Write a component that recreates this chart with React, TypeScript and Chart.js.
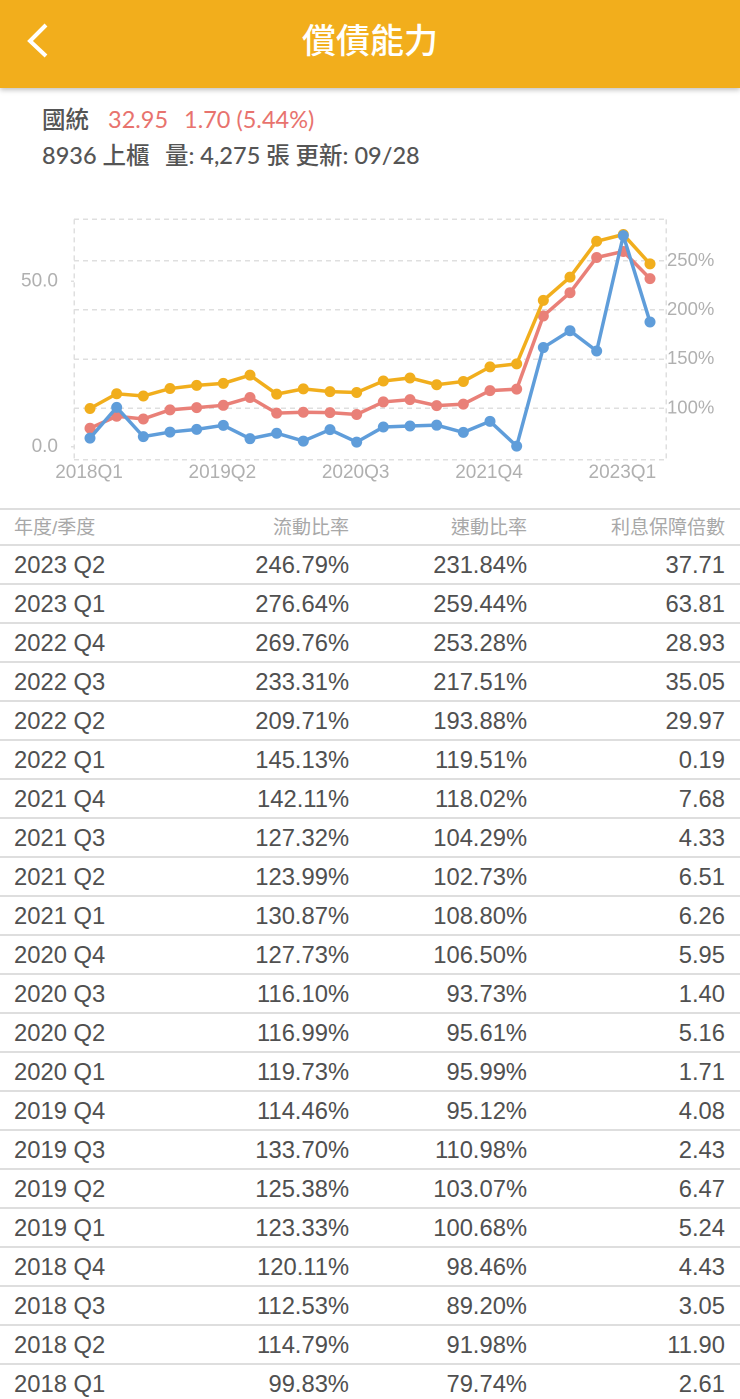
import { useEffect, useRef } from 'react';
import { Chart, registerables } from 'chart.js';

Chart.register(...registerables);

// oldest first, same order the chart reads them
const quarters = [
  '2018 Q1', '2018 Q2', '2018 Q3', '2018 Q4', '2019 Q1', '2019 Q2', '2019 Q3', '2019 Q4',
  '2020 Q1', '2020 Q2', '2020 Q3', '2020 Q4', '2021 Q1', '2021 Q2', '2021 Q3', '2021 Q4',
  '2022 Q1', '2022 Q2', '2022 Q3', '2022 Q4', '2023 Q1', '2023 Q2',
];
const currentRatio = [
  99.83, 114.79, 112.53, 120.11, 123.33, 125.38, 133.7, 114.46, 119.73, 116.99, 116.1,
  127.73, 130.87, 123.99, 127.32, 142.11, 145.13, 209.71, 233.31, 269.76, 276.64, 246.79,
];
const quickRatio = [
  79.74, 91.98, 89.2, 98.46, 100.68, 103.07, 110.98, 95.12, 95.99, 95.61, 93.73,
  106.5, 108.8, 102.73, 104.29, 118.02, 119.51, 193.88, 217.51, 253.28, 259.44, 231.84,
];
const interestCover = [
  2.61, 11.9, 3.05, 4.43, 5.24, 6.47, 2.43, 4.08, 1.71, 5.16, 1.4,
  5.95, 6.26, 6.51, 4.33, 7.68, 0.19, 29.97, 35.05, 28.93, 63.81, 37.71,
];
const xTickIndexes = [0, 5, 10, 15, 20];
const leftTicks = [0, 50];
const rightTicks = [100, 150, 200, 250];
const tableHeaders = ['年度/季度', '流動比率', '速動比率', '利息保障倍數'];

const X_MIN = -0.6;
const X_MAX = 21.6;

const GOLD = '#F1AE1D';
const PINK = '#E98078';
const BLUE = '#5F9DDA';
const GRID = '#DFDFDF';
const TICK_TEXT = '#B0B0B0';
const TICK_FAMILY = '"Liberation Sans", Arial, sans-serif';
const DASH = [5, 4];

const HEAD_FONT = 'Lato, "Noto Sans CJK TC", sans-serif';
const TABLE_FONT = '"Liberation Sans", "Noto Sans CJK TC", sans-serif';

const points = (values: number[]) => values.map((y, x) => ({ x, y }));

function line(label: string, values: number[], color: string, yAxisID: string) {
  return {
    label,
    data: points(values),
    yAxisID,
    borderColor: color,
    backgroundColor: color,
    borderWidth: 3.5,
    pointRadius: 5.5,
    pointBorderWidth: 0,
    tension: 0,
  };
}

function SolvencyChart() {
  const canvasRef = useRef<HTMLCanvasElement>(null);

  useEffect(() => {
    if (!canvasRef.current) return;

    const chart = new Chart(canvasRef.current, {
      type: 'line',
      data: {
        // first dataset is painted on top
        datasets: [
          line('利息保障倍數', interestCover, BLUE, 'left'),
          line('流動比率', currentRatio, GOLD, 'right'),
          line('速動比率', quickRatio, PINK, 'right'),
        ],
      },
      options: {
        animation: false,
        responsive: false,
        devicePixelRatio: 2,
        plugins: { legend: { display: false }, tooltip: { enabled: false } },
        scales: {
          x: {
            type: 'linear',
            min: X_MIN,
            max: X_MAX,
            // the two edge ticks only carry the dashed frame
            afterBuildTicks: (scale: any) => {
              scale.ticks = [X_MIN, ...xTickIndexes, X_MAX].map((value) => ({ value }));
            },
            afterFit: (scale: any) => {
              scale.height = 40.5;
            },
            grid: {
              drawTicks: false,
              lineWidth: 1.5,
              color: (ctx: any) =>
                ctx.tick && (ctx.tick.value === X_MIN || ctx.tick.value === X_MAX) ? GRID : 'transparent',
            },
            border: { display: false, dash: DASH },
            ticks: {
              autoSkip: false,
              maxRotation: 0,
              padding: 2,
              labelOffset: -1,
              color: TICK_TEXT,
              font: { family: TICK_FAMILY, size: 19 },
              callback: (value: any) => (quarters[value] ? quarters[value].replace(' ', '') : ''),
            },
          },
          left: {
            type: 'linear',
            position: 'left',
            min: -3.86,
            max: 68.7,
            afterBuildTicks: (scale: any) => {
              scale.ticks = leftTicks.map((value) => ({ value }));
            },
            afterFit: (scale: any) => {
              scale.width = 74;
            },
            grid: { drawOnChartArea: false, color: GRID, lineWidth: 1.5, tickLength: 3 },
            border: { display: false, dash: DASH },
            ticks: {
              autoSkip: false,
              padding: 13,
              color: TICK_TEXT,
              font: { family: TICK_FAMILY, size: 19 },
              callback: (value: any) => Number(value).toFixed(1),
            },
          },
          right: {
            type: 'linear',
            position: 'right',
            min: 48,
            max: 292,
            afterBuildTicks: (scale: any) => {
              scale.ticks = [48, ...rightTicks, 292].map((value) => ({ value }));
            },
            afterFit: (scale: any) => {
              scale.width = 74;
            },
            grid: { color: GRID, lineWidth: 1.5, drawTicks: false },
            border: { display: false, dash: DASH },
            ticks: {
              autoSkip: false,
              padding: 1,
              color: TICK_TEXT,
              font: { family: TICK_FAMILY, size: 18.5 },
              callback: (value: any) => (rightTicks.includes(value) ? `${value}%` : ''),
            },
          },
        },
      } as any,
    });

    return () => chart.destroy();
  }, []);

  return (
    <canvas
      ref={canvasRef}
      width={740}
      height={305}
      style={{ position: 'absolute', left: 0, top: 195, width: 740, height: 305 }}
    />
  );
}

const columnRight = [null, 349, 527, 725];

function Row({ cells, header }: { cells: string[]; header?: boolean }) {
  return (
    <div
      style={{
        position: 'relative',
        height: header ? 34 : 37,
        borderBottom: '2px solid #DEDEDE',
        lineHeight: header ? '35px' : '38px',
        fontSize: header ? 19 : 23.75,
        color: header ? '#A8A8A8' : '#505050',
      }}
    >
      {cells.map((cell, i) => (
        <span
          key={i}
          style={
            i === 0
              ? { position: 'absolute', left: 14 }
              : { position: 'absolute', right: 740 - (columnRight[i] as number) }
          }
        >
          {cell}
        </span>
      ))}
    </div>
  );
}

const infoLine = {
  position: 'absolute',
  fontFamily: HEAD_FONT,
  fontSize: 23.5,
  lineHeight: '32px',
  whiteSpace: 'pre',
} as const;

export default function App() {
  const rows = quarters.map((q, i) => [
    q,
    `${currentRatio[i].toFixed(2)}%`,
    `${quickRatio[i].toFixed(2)}%`,
    interestCover[i].toFixed(2),
  ]).reverse();

  return (
    <div
      style={{
        position: 'absolute',
        left: 0,
        top: 0,
        width: 740,
        height: 1399,
        overflow: 'hidden',
        background: '#fff',
      }}
    >
      <div
        style={{
          position: 'absolute',
          left: 0,
          top: 0,
          width: 740,
          height: 88,
          background: '#F2AE1C',
          boxShadow: '0 2px 5px rgba(0,0,0,0.25)',
          zIndex: 1,
        }}
      >
        <svg width={60} height={88} style={{ position: 'absolute', left: 0, top: 0 }}>
          <polyline points="46,25 30,41 46,56" fill="none" stroke="#fff" strokeWidth={4} />
        </svg>
        <div
          style={{
            position: 'absolute',
            left: 0,
            width: 740,
            top: 17,
            textAlign: 'center',
            color: '#fff',
            fontFamily: HEAD_FONT,
            fontSize: 34,
            lineHeight: '46px',
            fontWeight: 500,
          }}
        >
          償債能力
        </div>
      </div>

      <div style={{ ...infoLine, left: 42, top: 103, color: '#555', fontWeight: 500 }}>國統</div>
      <div style={{ ...infoLine, left: 108, top: 103, color: '#E8736E' }}>32.95</div>
      <div style={{ ...infoLine, left: 184, top: 103, color: '#E8736E' }}>1.70 (5.44%)</div>
      <div style={{ ...infoLine, left: 42, top: 139, color: '#555', fontWeight: 500 }}>8936 上櫃</div>
      <div style={{ ...infoLine, left: 165, top: 139, color: '#555', fontWeight: 500 }}>
        量: 4,275 張 更新: 09/28
      </div>

      <SolvencyChart />

      <div
        style={{
          position: 'absolute',
          left: 0,
          top: 508,
          width: 740,
          borderTop: '2px solid #DEDEDE',
          fontFamily: TABLE_FONT,
        }}
      >
        <Row cells={tableHeaders} header />
        {rows.map((r) => (
          <Row key={r[0]} cells={r} />
        ))}
      </div>
    </div>
  );
}
